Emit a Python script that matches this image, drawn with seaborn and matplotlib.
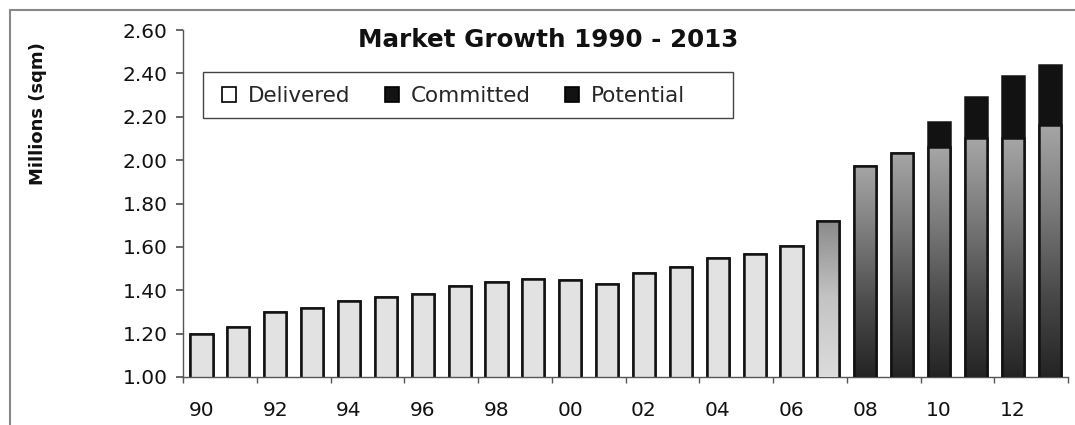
import numpy as np
import pandas as pd
import matplotlib
matplotlib.use("Agg")
import matplotlib.pyplot as plt
import seaborn as sns
from matplotlib.patches import Patch, Rectangle
from matplotlib.lines import Line2D
from matplotlib.colors import LinearSegmentedColormap

# ---- data ----
years = ["90", "91", "92", "93", "94", "95", "96", "97", "98", "99",
         "00", "01", "02", "03", "04", "05", "06", "07", "08", "09",
         "10", "11", "12", "13"]
delivered = [1.20, 1.23, 1.30, 1.32, 1.35, 1.37, 1.385, 1.42, 1.44, 1.45,
             1.447, 1.43, 1.478, 1.506, 1.547, 1.566, 1.604, 1.72, 1.975, 2.035,
             2.06, 2.10, 2.10, 2.16]
committed = [0.0] * 20 + [0.115, 0.19, 0.20, 0.18]
potential = [0.0] * 22 + [0.09, 0.10]
y_ticks = [1.00, 1.20, 1.40, 1.60, 1.80, 2.00, 2.20, 2.40, 2.60]
series_names = ["Delivered", "Committed", "Potential"]
title = "Market Growth 1990 - 2013"
y_label = "Millions (sqm)"

sns.set_theme(style="ticks")
plt.rcParams["font.family"] = ["DejaVu Sans"]

W, H = 1075, 425
fig = plt.figure(figsize=(W / 100, H / 100), dpi=100)
fig.patch.set_facecolor("white")
AX_L, AX_T, AX_R, AX_B = 183, 30, 1068, 377
ax = fig.add_axes([AX_L / W, 1 - AX_B / H, (AX_R - AX_L) / W, (AX_B - AX_T) / H])

df = pd.DataFrame({"year": years, "delivered": delivered,
                   "committed": committed, "potential": potential})
df["upto_committed"] = df["delivered"] + df["committed"]
df["total"] = df["upto_committed"] + df["potential"]

DARK = "#121212"
sns.barplot(data=df, x="year", y="total", color=DARK, edgecolor=DARK,
            width=0.6, linewidth=1.8, saturation=1, ax=ax)
sns.barplot(data=df, x="year", y="upto_committed", color=DARK, edgecolor=DARK,
            width=0.6, linewidth=0, saturation=1, ax=ax)
sns.barplot(data=df, x="year", y="delivered", color="#e2e2e2", edgecolor=DARK,
            width=0.6, linewidth=1.8, saturation=1, ax=ax)

ymin, ymax = y_ticks[0], y_ticks[-1]

# gradient fills for the later delivered bars
cm_light = LinearSegmentedColormap.from_list("g07", ["#dcdcdc", "#c4c4c4", "#8a8a8a"])
cm_dark = LinearSegmentedColormap.from_list("gdark", ["#242424", "#4a4a4a", "#7a7a7a", "#a6a6a6"])
grad = np.linspace(0, 1, 256).reshape(-1, 1)
for i, p in enumerate(ax.containers[2]):
    if i < 17:
        continue
    cmap = cm_light if i == 17 else cm_dark
    x0 = p.get_x()
    w = p.get_width()
    top = p.get_y() + p.get_height()
    im = ax.imshow(grad, cmap=cmap, extent=[x0, x0 + w, ymin, top],
                   origin="lower", aspect="auto", zorder=3)
    im.set_clip_path(p)
    p.set_facecolor("none")
    p.set_zorder(4)

ax.set_xlim(-0.5, len(years) - 0.5)
ax.set_ylim(ymin, ymax)
ax.set_aspect("auto")

# axes styling
for s in ["top", "right"]:
    ax.spines[s].set_visible(False)
for s in ["left", "bottom"]:
    ax.spines[s].set_color("#555555")
    ax.spines[s].set_linewidth(1.0)

ax.set_yticks(y_ticks)
ax.set_yticklabels([f"{v:.2f}" for v in y_ticks], fontsize=14.5, color="#111111")
ax.set_xticks(range(0, len(years), 2))
ax.set_xticklabels(years[::2], fontsize=14.5, color="#111111")
ax.set_xticks(np.arange(-0.5, len(years), 2), minor=True)
ax.tick_params(axis="x", which="major", length=0, pad=17)
ax.tick_params(axis="x", which="minor", length=4, color="#555555", direction="out")
ax.tick_params(axis="y", which="major", length=5, color="#555555", pad=6, direction="out")
ax.set_xlabel("")
ax.set_ylabel("")

# title and y label
fig.text(548 / W, 1 - 40 / H, title, ha="center", va="center",
         fontsize=17.7, fontweight="bold", color="#111111")
fig.text(38 / W, 1 - 114 / H, y_label, ha="center", va="center", rotation=90,
         fontsize=13, fontweight="bold", color="#111111")

# legend (frame drawn separately as a box)
def ax_x(px):
    return (px - AX_L) / (AX_R - AX_L)

def ax_y(py):
    return (AX_B - py) / (AX_B - AX_T)

box = Rectangle((ax_x(203), ax_y(118)), ax_x(733) - ax_x(203), ax_y(72) - ax_y(118),
                transform=ax.transAxes, facecolor="white", edgecolor="#444444",
                linewidth=1.0, zorder=5, clip_on=False)
ax.add_patch(box)
handles = [Patch(facecolor="white", edgecolor="black", linewidth=1.2, label=series_names[0]),
           Patch(facecolor=DARK, edgecolor="black", linewidth=1.2, label=series_names[1]),
           Patch(facecolor=DARK, edgecolor="black", linewidth=1.2, label=series_names[2])]
leg = ax.legend(handles=handles, loc="center left", ncol=3,
                bbox_to_anchor=(ax_x(222), ax_y(96)),
                borderaxespad=0, borderpad=0, fontsize=15.5, handlelength=0.65,
                handleheight=0.65, handletextpad=0.55, columnspacing=1.6,
                frameon=False)
leg.set_zorder(6)

# outer frame lines (top and left)
fig.add_artist(Line2D([10 / W, 1], [1 - 10 / H, 1 - 10 / H], transform=fig.transFigure,
                      color="#888888", lw=1.5))
fig.add_artist(Line2D([10 / W, 10 / W], [0, 1 - 10 / H], transform=fig.transFigure,
                      color="#888888", lw=1.5))

fig.savefig("out.png", dpi=100)
